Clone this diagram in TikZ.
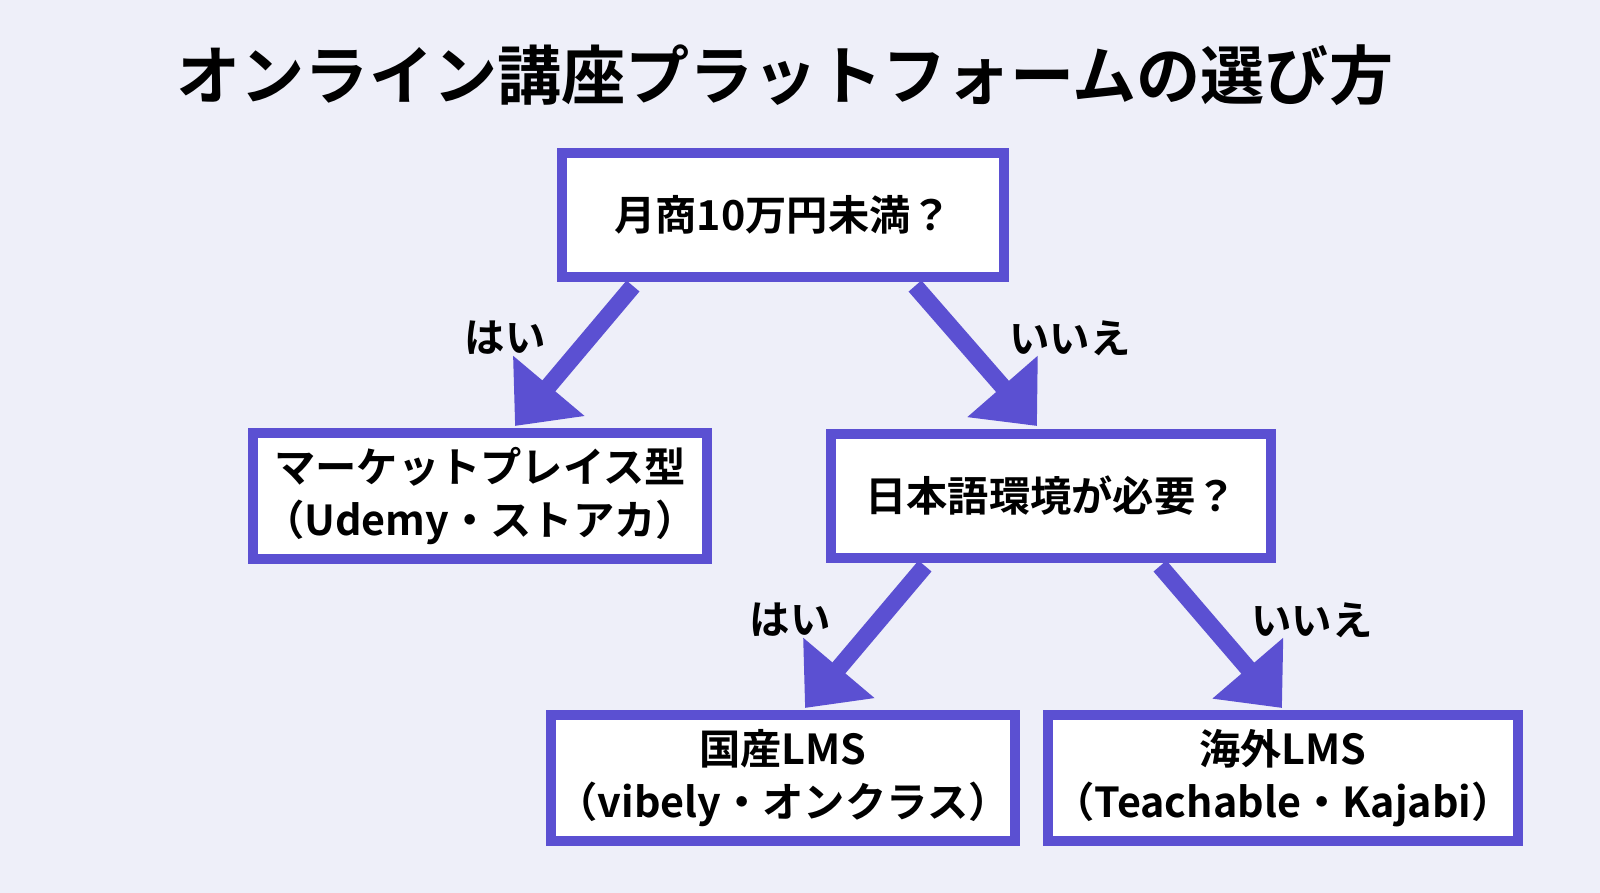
\documentclass[tikz,border=0pt]{standalone}
\usepackage{fontspec}
\setmainfont{Noto Sans CJK JP}[BoldFont={Noto Sans CJK JP Bold}]
\usetikzlibrary{arrows.meta}
\definecolor{bg}{HTML}{EEEFF9}
\definecolor{pur}{HTML}{5B50D2}
\begin{document}
\begin{tikzpicture}[x=0.02cm,y=-0.02cm,
  box/.style={draw=pur,line width=0.2cm,fill=white,align=center,font=\bfseries\fontsize{23.5}{30}\selectfont},
  arr/.style={draw=pur,line width=0.34cm,-{Triangle[length=1.05cm,width=1.8cm]}},
  lab/.style={font=\bfseries\fontsize{23}{28}\selectfont}]
\fill[bg] (0,0) rectangle (1600,893);
\useasboundingbox (0,0) rectangle (1600,893);
\node[font=\bfseries\fontsize{36.5}{44}\selectfont] (title) at (785,75) {オンライン講座プラットフォームの選び方};
\node[box,minimum width=8.84cm,minimum height=2.5cm] (q1) at (783,215) {月商10万円未満？};
\node[box,minimum width=9.08cm,minimum height=2.54cm] (a1) at (480,496) {マーケットプレイス型\\（Udemy・ストアカ）};
\node[box,minimum width=8.82cm,minimum height=2.5cm] (q2) at (1051,496) {日本語環境が必要？};
\node[box,minimum width=9.1cm,minimum height=2.52cm] (a2) at (783,778) {国産LMS\\（vibely・オンクラス）};
\node[box,minimum width=9.16cm,minimum height=2.52cm] (a3) at (1283,778) {海外LMS\\（Teachable・Kajabi）};
\coordinate (s1) at (633,286); \coordinate (e1) at (515,426);
\coordinate (s2) at (915,286); \coordinate (e2) at (1037,426);
\coordinate (s3) at (925,566); \coordinate (e3) at (805,708);
\coordinate (s4) at (1160,566); \coordinate (e4) at (1282,708);
\draw[arr] (s1) -- (e1);
\draw[arr] (s2) -- (e2);
\draw[arr] (s3) -- (e3);
\draw[arr] (s4) -- (e4);
\node[lab] (l1) at (505,338) {はい};
\node[lab] (l2) at (1070,338) {いいえ};
\node[lab] (l3) at (790,620) {はい};
\node[lab] (l4) at (1312,620) {いいえ};
\end{tikzpicture}
\end{document}
